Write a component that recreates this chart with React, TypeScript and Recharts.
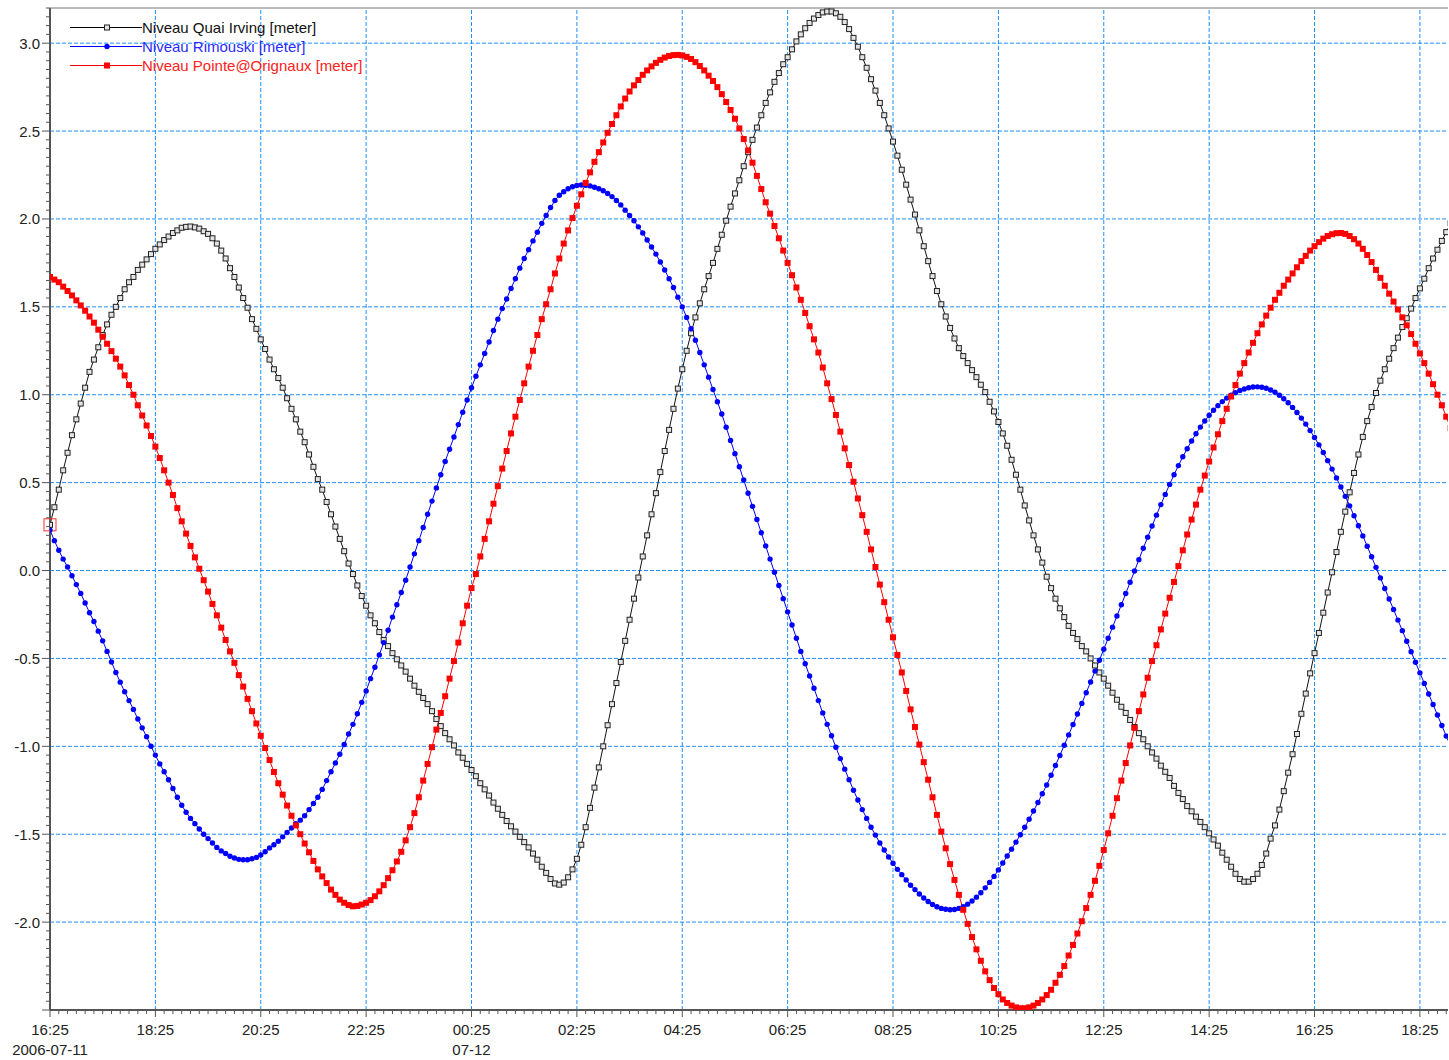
import { LineChart, Line, XAxis, YAxis, ReferenceLine, ReferenceDot, Legend } from 'recharts';

// 5-minute samples starting 2006-07-11 16:25
const STEP_MINUTES = 5;
const X_END = 1592;

const X_TICK_LABELS = ['16:25', '18:25', '20:25', '22:25', '00:25', '02:25', '04:25', '06:25', '08:25', '10:25', '12:25', '14:25', '16:25', '18:25'];
const X_DATE_LABELS = ['2006-07-11', '', '', '', '07-12', '', '', '', '', '', '', '', '', ''];
const Y_MAJOR = [-2.5, -2.0, -1.5, -1.0, -0.5, 0.0, 0.5, 1.0, 1.5, 2.0, 2.5, 3.0];

const IRVING = [
  0.26, 0.36, 0.46, 0.57, 0.67, 0.77, 0.86, 0.95, 1.04, 1.13,
  1.20, 1.27, 1.34, 1.40, 1.455, 1.50, 1.55, 1.60, 1.64, 1.67,
  1.71, 1.74, 1.77, 1.80, 1.83, 1.855, 1.88, 1.90, 1.92, 1.935,
  1.95, 1.955, 1.957, 1.952, 1.945, 1.93, 1.915, 1.89, 1.86, 1.82,
  1.775, 1.72, 1.67, 1.61, 1.55, 1.495, 1.43, 1.375, 1.315, 1.26,
  1.20, 1.145, 1.095, 1.04, 0.98, 0.92, 0.86, 0.79, 0.73, 0.66,
  0.59, 0.52, 0.46, 0.39, 0.32, 0.25, 0.18, 0.11, 0.04, -0.02,
  -0.085, -0.145, -0.20, -0.255, -0.30, -0.35, -0.395, -0.43, -0.47, -0.505,
  -0.54, -0.575, -0.615, -0.655, -0.69, -0.725, -0.76, -0.80, -0.845, -0.885,
  -0.925, -0.96, -0.995, -1.035, -1.065, -1.10, -1.135, -1.17, -1.21, -1.245,
  -1.28, -1.32, -1.355, -1.39, -1.425, -1.455, -1.485, -1.515, -1.545, -1.575,
  -1.61, -1.645, -1.685, -1.72, -1.755, -1.78, -1.787, -1.775, -1.745, -1.70,
  -1.64, -1.56, -1.46, -1.35, -1.235, -1.12, -1.0, -0.88, -0.76, -0.64,
  -0.52, -0.40, -0.28, -0.16, -0.04, 0.08, 0.20, 0.32, 0.44, 0.56,
  0.68, 0.80, 0.92, 1.035, 1.145, 1.25, 1.35, 1.44, 1.52, 1.60,
  1.675, 1.75, 1.83, 1.91, 1.99, 2.07, 2.145, 2.22, 2.30, 2.38,
  2.45, 2.52, 2.59, 2.66, 2.72, 2.78, 2.83, 2.88, 2.92, 2.965,
  3.01, 3.05, 3.085, 3.115, 3.14, 3.16, 3.175, 3.18, 3.18, 3.17,
  3.15, 3.12, 3.08, 3.03, 2.98, 2.92, 2.86, 2.795, 2.73, 2.66,
  2.59, 2.515, 2.44, 2.36, 2.28, 2.195, 2.11, 2.025, 1.935, 1.845,
  1.76, 1.675, 1.59, 1.515, 1.445, 1.38, 1.32, 1.265, 1.22, 1.18,
  1.14, 1.10, 1.057, 1.015, 0.96, 0.905, 0.845, 0.78, 0.71, 0.63,
  0.545, 0.46, 0.37, 0.285, 0.20, 0.12, 0.045, -0.035, -0.10, -0.16,
  -0.215, -0.265, -0.315, -0.355, -0.39, -0.43, -0.46, -0.50, -0.54, -0.58,
  -0.615, -0.655, -0.695, -0.735, -0.775, -0.81, -0.85, -0.89, -0.925, -0.96,
  -1.0, -1.035, -1.07, -1.11, -1.145, -1.18, -1.225, -1.265, -1.30, -1.34,
  -1.37, -1.40, -1.43, -1.46, -1.495, -1.53, -1.565, -1.605, -1.645, -1.685,
  -1.725, -1.755, -1.77, -1.77, -1.755, -1.725, -1.675, -1.61, -1.525, -1.45,
  -1.36, -1.255, -1.15, -1.045, -0.93, -0.815, -0.70, -0.585, -0.47, -0.355,
  -0.24, -0.125, -0.01, 0.105, 0.22, 0.335, 0.445, 0.555, 0.66, 0.76,
  0.85, 0.93, 1.01, 1.08, 1.145, 1.205, 1.265, 1.325, 1.385, 1.435,
  1.49, 1.55, 1.605, 1.66, 1.72, 1.775, 1.825, 1.875, 1.925, 1.975,
];

const RIMOUSKI = [
  0.23, 0.17, 0.115, 0.065, 0.02, -0.03, -0.08, -0.13, -0.185, -0.24,
  -0.29, -0.345, -0.40, -0.46, -0.52, -0.58, -0.635, -0.69, -0.74, -0.79,
  -0.845, -0.895, -0.945, -1.0, -1.05, -1.10, -1.145, -1.19, -1.24, -1.29,
  -1.335, -1.375, -1.41, -1.44, -1.47, -1.50, -1.525, -1.55, -1.575, -1.595,
  -1.61, -1.625, -1.635, -1.643, -1.645, -1.645, -1.64, -1.632, -1.618, -1.60,
  -1.578, -1.56, -1.54, -1.515, -1.49, -1.465, -1.44, -1.42, -1.395, -1.36,
  -1.325, -1.29, -1.245, -1.195, -1.145, -1.095, -1.045, -0.99, -0.93, -0.875,
  -0.815, -0.75, -0.685, -0.615, -0.55, -0.48, -0.41, -0.34, -0.265, -0.195,
  -0.125, -0.055, 0.02, 0.095, 0.17, 0.245, 0.32, 0.395, 0.47, 0.545,
  0.62, 0.69, 0.76, 0.83, 0.90, 0.97, 1.04, 1.105, 1.17, 1.235,
  1.30, 1.365, 1.43, 1.49, 1.545, 1.605, 1.66, 1.72, 1.775, 1.825,
  1.875, 1.925, 1.975, 2.02, 2.065, 2.105, 2.135, 2.155, 2.172, 2.183,
  2.19, 2.193, 2.192, 2.188, 2.18, 2.172, 2.16, 2.145, 2.127, 2.105,
  2.08, 2.05, 2.02, 1.99, 1.955, 1.92, 1.88, 1.84, 1.80, 1.755,
  1.71, 1.66, 1.61, 1.555, 1.50, 1.44, 1.375, 1.31, 1.24, 1.17,
  1.10, 1.03, 0.96, 0.89, 0.815, 0.74, 0.665, 0.59, 0.515, 0.44,
  0.365, 0.29, 0.215, 0.14, 0.065, -0.01, -0.085, -0.16, -0.235, -0.31,
  -0.385, -0.46, -0.53, -0.60, -0.67, -0.74, -0.81, -0.875, -0.94, -1.005,
  -1.07, -1.13, -1.19, -1.25, -1.305, -1.36, -1.41, -1.46, -1.505, -1.55,
  -1.59, -1.63, -1.665, -1.70, -1.73, -1.76, -1.79, -1.815, -1.84, -1.863,
  -1.883, -1.90, -1.913, -1.922, -1.927, -1.93, -1.928, -1.922, -1.912, -1.898,
  -1.88, -1.858, -1.833, -1.805, -1.774, -1.74, -1.703, -1.664, -1.624, -1.585,
  -1.545, -1.503, -1.46, -1.415, -1.368, -1.32, -1.27, -1.22, -1.165, -1.109,
  -1.052, -0.994, -0.935, -0.876, -0.816, -0.756, -0.695, -0.634, -0.572, -0.51,
  -0.448, -0.385, -0.322, -0.259, -0.195, -0.131, -0.067, -0.003, 0.062, 0.127,
  0.19, 0.253, 0.315, 0.375, 0.433, 0.49, 0.545, 0.597, 0.647, 0.693,
  0.737, 0.778, 0.816, 0.851, 0.883, 0.912, 0.938, 0.961, 0.981, 0.998,
  1.012, 1.024, 1.033, 1.04, 1.044, 1.045, 1.043, 1.037, 1.027, 1.014,
  0.997, 0.977, 0.954, 0.928, 0.899, 0.867, 0.833, 0.796, 0.757, 0.715,
  0.671, 0.625, 0.577, 0.527, 0.475, 0.422, 0.368, 0.312, 0.255, 0.197,
  0.138, 0.078, 0.018, -0.042, -0.102, -0.162, -0.222, -0.282, -0.342, -0.402,
  -0.462, -0.522, -0.582, -0.642, -0.702, -0.762, -0.822, -0.882, -0.942, -1.0,
];

const ORIGNAUX = [
  1.67, 1.655, 1.64, 1.615, 1.59, 1.565, 1.537, 1.508, 1.478, 1.445,
  1.41, 1.37, 1.33, 1.29, 1.248, 1.205, 1.16, 1.11, 1.055, 1.0,
  0.94, 0.882, 0.825, 0.765, 0.705, 0.64, 0.57, 0.50, 0.43, 0.355,
  0.28, 0.21, 0.14, 0.075, 0.01, -0.055, -0.12, -0.19, -0.255, -0.325,
  -0.395, -0.46, -0.525, -0.595, -0.66, -0.73, -0.80, -0.87, -0.94, -1.01,
  -1.078, -1.146, -1.21, -1.275, -1.337, -1.395, -1.45, -1.50, -1.553, -1.603,
  -1.652, -1.70, -1.74, -1.778, -1.815, -1.845, -1.872, -1.89, -1.903, -1.91,
  -1.908, -1.90, -1.89, -1.875, -1.853, -1.825, -1.79, -1.75, -1.705, -1.655,
  -1.60, -1.535, -1.46, -1.38, -1.29, -1.195, -1.10, -1.005, -0.905, -0.81,
  -0.715, -0.615, -0.515, -0.41, -0.30, -0.20, -0.10, -0.02, 0.08, 0.18,
  0.28, 0.38, 0.48, 0.58, 0.68, 0.78, 0.875, 0.97, 1.065, 1.16,
  1.25, 1.34, 1.43, 1.515, 1.60, 1.69, 1.775, 1.86, 1.935, 2.005,
  2.075, 2.14, 2.205, 2.265, 2.325, 2.38, 2.435, 2.49, 2.54, 2.59,
  2.64, 2.685, 2.725, 2.76, 2.79, 2.82, 2.845, 2.868, 2.888, 2.905,
  2.918, 2.927, 2.932, 2.933, 2.93, 2.922, 2.91, 2.892, 2.87, 2.845,
  2.815, 2.785, 2.75, 2.71, 2.665, 2.62, 2.57, 2.515, 2.455, 2.39,
  2.32, 2.245, 2.17, 2.095, 2.03, 1.96, 1.89, 1.82, 1.75, 1.68,
  1.61, 1.54, 1.465, 1.39, 1.315, 1.24, 1.155, 1.065, 0.975, 0.885,
  0.79, 0.695, 0.60, 0.505, 0.41, 0.315, 0.22, 0.12, 0.02, -0.08,
  -0.18, -0.28, -0.38, -0.48, -0.58, -0.685, -0.79, -0.89, -0.99, -1.09,
  -1.19, -1.29, -1.39, -1.485, -1.58, -1.67, -1.76, -1.845, -1.93, -2.01,
  -2.085, -2.155, -2.22, -2.28, -2.33, -2.375, -2.41, -2.44, -2.46, -2.475,
  -2.485, -2.49, -2.49, -2.485, -2.475, -2.46, -2.44, -2.415, -2.385, -2.345,
  -2.30, -2.25, -2.19, -2.13, -2.065, -1.995, -1.92, -1.845, -1.765, -1.68,
  -1.59, -1.495, -1.395, -1.295, -1.195, -1.095, -0.995, -0.895, -0.80, -0.705,
  -0.61, -0.515, -0.425, -0.335, -0.245, -0.155, -0.065, 0.025, 0.115, 0.205,
  0.29, 0.375, 0.46, 0.54, 0.62, 0.70, 0.775, 0.85, 0.92, 0.99,
  1.055, 1.12, 1.18, 1.24, 1.295, 1.35, 1.40, 1.45, 1.495, 1.54,
  1.58, 1.62, 1.655, 1.69, 1.725, 1.76, 1.79, 1.82, 1.845, 1.868,
  1.888, 1.903, 1.913, 1.919, 1.92, 1.915, 1.903, 1.885, 1.86, 1.83,
  1.795, 1.755, 1.71, 1.665, 1.62, 1.575, 1.53, 1.485, 1.44, 1.395,
  1.345, 1.29, 1.235, 1.18, 1.12, 1.06, 1.0, 0.94, 0.875, 0.81,
];

const SERIES_NAMES = ['Niveau Quai Irving [meter]', 'Niveau Rimouski [meter]', 'Niveau Pointe@Orignaux [meter]'];

const FONT = "'Liberation Sans', Arial, sans-serif";
const GRID = '#1e90ff';
const AXIS = '#555';

const data = IRVING.map((v, i) => ({
  t: i * STEP_MINUTES,
  irving: v,
  rimouski: RIMOUSKI[i],
  orignaux: ORIGNAUX[i],
}));

const xMajor = X_TICK_LABELS.map((_, i) => i * 120);
const xTicks = Array.from({ length: 160 }, (_, i) => i * 10);
const yTicks = Array.from({ length: 115 }, (_, i) => Math.round((-2.5 + i * 0.05) * 100) / 100);

function XTick(props: any) {
  const { x, y, payload } = props;
  const v = payload.value;
  const major = v % 120 === 0;
  const idx = v / 120;
  return (
    <g>
      <line x1={x} y1={y} x2={x} y2={y + (major ? 7 : 4)} stroke={AXIS} />
      {major && (
        <text x={x} y={y + 25} textAnchor="middle" fontSize={15} fontFamily={FONT} fill="#222">
          {X_TICK_LABELS[idx]}
        </text>
      )}
      {major && X_DATE_LABELS[idx] && (
        <text x={x} y={y + 45} textAnchor="middle" fontSize={15} fontFamily={FONT} fill="#222">
          {X_DATE_LABELS[idx]}
        </text>
      )}
    </g>
  );
}

function YTick(props: any) {
  const { x, y, payload } = props;
  const v = payload.value;
  const major = Math.abs(v * 2 - Math.round(v * 2)) < 1e-6;
  return (
    <g>
      <line x1={x - (major ? 8 : 4)} y1={y} x2={x} y2={y} stroke={AXIS} />
      {major && v > -2.45 && (
        <text x={x - 10} y={y} dy={5.5} textAnchor="end" fontSize={15} fontFamily={FONT} fill="#222">
          {v.toFixed(1)}
        </text>
      )}
    </g>
  );
}

const irvingDot = (p: any) => (
  <rect key={`irv-${p.index}`} x={p.cx - 2.5} y={p.cy - 2.5} width={5} height={5} fill="#e4e4e4" stroke="#222" strokeWidth={1} />
);

const rimouskiDot = (p: any) => (
  <circle key={`rim-${p.index}`} cx={p.cx} cy={p.cy} r={2.7} fill="#0000ff" />
);

const orignauxDot = (p: any) => (
  <rect key={`ori-${p.index}`} x={p.cx - 3} y={p.cy - 3} width={6} height={6} fill="#ff0000" />
);

// selection box drawn round the first Quai Irving sample
const SelectionBox = (p: any) => (
  <rect x={p.cx - 6} y={p.cy - 6} width={12} height={12} fill="none" stroke="#ff3030" strokeWidth={1} />
);

function LegendBox() {
  const rows = [
    { name: SERIES_NAMES[0], line: '#000', text: '#111' },
    { name: SERIES_NAMES[1], line: '#0000ff', text: '#2a2aff' },
    { name: SERIES_NAMES[2], line: '#ff0000', text: '#ff2020' },
  ];
  return (
    <div style={{ fontFamily: FONT, fontSize: 15, lineHeight: '19px' }}>
      {rows.map((r, i) => (
        <div key={r.name} style={{ display: 'flex', alignItems: 'center', height: 19 }}>
          <svg width={72} height={19}>
            <line x1={0} y1={9.5} x2={72} y2={9.5} stroke={r.line} />
            {i === 0 && <rect x={34.5} y={7} width={5} height={5} fill="#e4e4e4" stroke="#222" />}
            {i === 1 && <circle cx={37} cy={9.5} r={2.7} fill="#0000ff" />}
            {i === 2 && <rect x={34} y={6.5} width={6} height={6} fill="#ff0000" />}
          </svg>
          <span style={{ color: r.text, whiteSpace: 'nowrap' }}>{r.name}</span>
        </div>
      ))}
    </div>
  );
}

export default function App() {
  return (
    <div style={{ position: 'absolute', left: 0, top: 0, background: '#fff' }}>
      <LineChart width={1449} height={1060} data={data} margin={{ top: 8, right: 1, bottom: 0, left: 0 }}>
        <XAxis
          dataKey="t"
          type="number"
          domain={[0, X_END]}
          allowDataOverflow
          ticks={xTicks}
          interval={0}
          height={50}
          tickSize={0}
          tickMargin={0}
          tickLine={false}
          tick={<XTick />}
          axisLine={{ stroke: AXIS, strokeWidth: 2 }}
        />
        <YAxis
          type="number"
          domain={[-2.5, 3.2]}
          allowDataOverflow
          ticks={yTicks}
          interval={0}
          width={50}
          tickSize={0}
          tickMargin={0}
          tickLine={false}
          tick={<YTick />}
          axisLine={{ stroke: AXIS, strokeWidth: 2 }}
        />
        {Y_MAJOR.filter((v) => v > -2.5).map((v) => (
          <ReferenceLine key={`gy-${v}`} y={v} stroke={GRID} strokeDasharray="4 2" />
        ))}
        {xMajor.filter((v) => v > 0).map((v) => (
          <ReferenceLine key={`gx-${v}`} x={v} stroke={GRID} strokeDasharray="4 2" />
        ))}
        <ReferenceLine y={3.2} stroke="#777" />
        <Legend
          layout="vertical"
          align="center"
          verticalAlign="middle"
          content={<LegendBox />}
          wrapperStyle={{ left: 70, top: 18, width: 420 }}
        />
        <Line dataKey="irving" name={SERIES_NAMES[0]} stroke="#111" strokeWidth={1} dot={irvingDot} activeDot={false} isAnimationActive={false} />
        <Line dataKey="rimouski" name={SERIES_NAMES[1]} stroke="#0000ff" strokeWidth={1} dot={rimouskiDot} activeDot={false} isAnimationActive={false} />
        <Line dataKey="orignaux" name={SERIES_NAMES[2]} stroke="#ff0000" strokeWidth={1} dot={orignauxDot} activeDot={false} isAnimationActive={false} />
        <ReferenceDot x={data[0].t} y={data[0].irving} ifOverflow="visible" shape={SelectionBox} />
      </LineChart>
    </div>
  );
}
